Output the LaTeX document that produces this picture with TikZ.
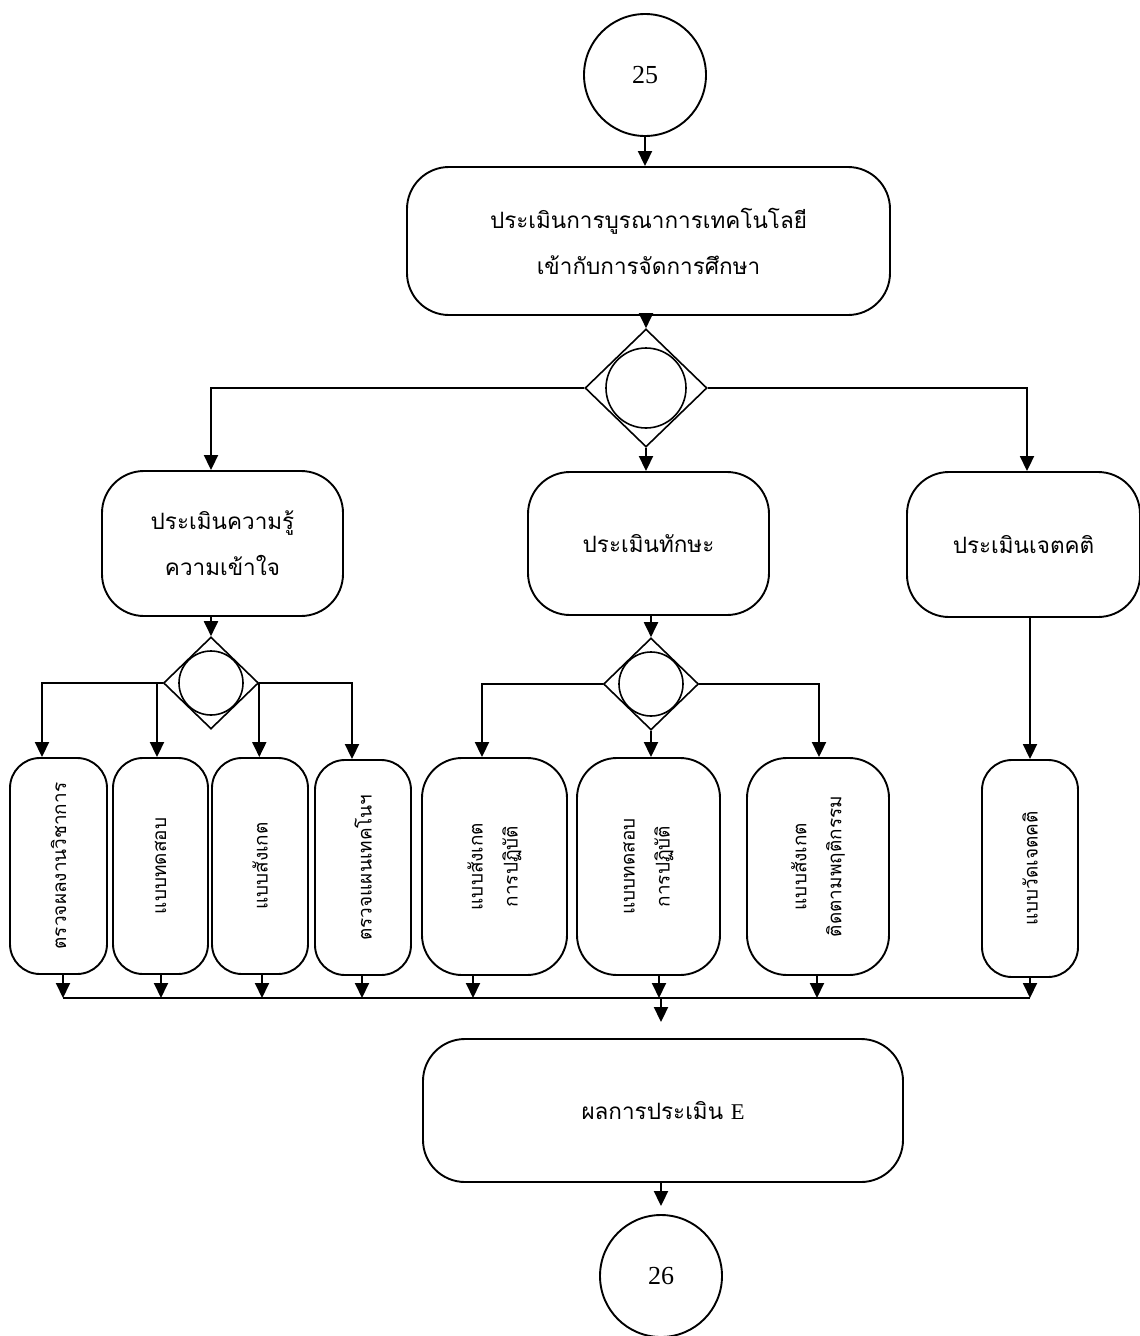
\documentclass[tikz,border=0pt]{standalone}
\usepackage{fontspec}
\setmainfont{Liberation Serif}
\newfontfamily\thai[Script=Thai]{Loma}
\usetikzlibrary{arrows.meta,shapes.geometric,calc}
\begin{document}
\begin{tikzpicture}[x=1pt,y=-1pt,line width=1.9pt,
  arr/.style={-{Triangle[width=14pt,length=15pt]}},
  rbox/.style={draw,rounded corners=42pt,inner sep=0pt,align=center,
     font=\thai\fontsize{22.5}{46}\selectfont},
  vbox/.style={draw,rounded corners=30pt,inner sep=0pt},
  vtext/.style={rotate=90,inner sep=0pt,align=center,
     font=\thai\fontsize{19}{35}\selectfont},
  conn/.style={draw,circle,inner sep=0pt,minimum size=122pt,
     font=\fontsize{26}{30}\selectfont},
  dia/.style={draw,diamond,inner sep=0pt,line width=1.6pt},
  ring/.style={draw,circle,inner sep=0pt,line width=1.6pt}]
\useasboundingbox (0,0) rectangle (1140,1336);

% connectors (terminal circles)
\node[conn] (c25) at (645,75) {25};
\node[conn] (c26) at (661,1276) {26};

% main boxes
\node[rbox,minimum width=483pt,minimum height=148pt] (B0) at (648.5,241)
  {ประเมินการบูรณาการเทคโนโลยี\\เข้ากับการจัดการศึกษา};
\node[rbox,minimum width=241pt,minimum height=145pt] (BL) at (222.5,543.5)
  {ประเมินความรู้\\ความเข้าใจ};
\node[rbox,minimum width=241pt,minimum height=143pt] (BM) at (648.5,543.5)
  {ประเมินทักษะ};
\node[rbox,minimum width=233pt,minimum height=145pt] (BR) at (1023.5,544.5)
  {ประเมินเจตคติ};
\node[rbox,minimum width=480pt,minimum height=143pt] (E) at (663,1110.5)
  {ผลการประเมิน {\rmfamily E}};

% diamonds
\node[dia,minimum width=122pt,minimum height=118pt] (D1) at (646,388) {};
\node[ring,minimum size=80pt] (D1c) at (D1) {};
\node[dia,minimum width=95pt,minimum height=92pt] (D2) at (211,683) {};
\node[ring,minimum size=64pt] (D2c) at (D2) {};
\node[dia,minimum width=95pt,minimum height=92pt] (D3) at (651,684) {};
\node[ring,minimum size=64pt] (D3c) at (D3) {};

% vertical boxes
\node[vbox,minimum width=97pt,minimum height=216pt] (b1) at (58.5,866) {};
\node[vtext] (t1) at (b1) {ตรวจผลงานวิชาการ};
\node[vbox,minimum width=95pt,minimum height=216pt] (b2) at (160.5,866) {};
\node[vtext] (t2) at (b2) {แบบทดสอบ};
\node[vbox,minimum width=96pt,minimum height=216pt] (b3) at (260,866) {};
\node[vtext] (t3) at (b3) {แบบสังเกต};
\node[vbox,minimum width=96pt,minimum height=215pt] (b4) at (363,867.5) {};
\node[vtext] (t4) at (b4) {ตรวจแผนเทคโนฯ};
\node[vbox,rounded corners=40pt,minimum width=145pt,minimum height=217pt] (b5) at (494.5,866.5) {};
\node[vtext] (t5) at (b5) {แบบสังเกต\\การปฏิบัติ};
\node[vbox,rounded corners=40pt,minimum width=143pt,minimum height=217pt] (b6) at (648.5,866.5) {};
\node[vtext] (t6) at (b6) {แบบทดสอบ\\การปฏิบัติ};
\node[vbox,rounded corners=40pt,minimum width=142pt,minimum height=217pt] (b7) at (818,866.5) {};
\node[vtext] (t7) at (b7) {แบบสังเกต\\ติดตามพฤติกรรม};
\node[vbox,minimum width=96pt,minimum height=217pt] (b8) at (1030,868.5) {};
\node[vtext] (t8) at (b8) {แบบวัดเจตคติ};

% helper x-positions
\coordinate (kL) at (211,0);
\coordinate (kR) at (1027,0);
\coordinate (k1) at (42,0);
\coordinate (k2) at (157,0);
\coordinate (k4) at (352,0);
\coordinate (k5) at (482,0);
\coordinate (k7) at (819,0);
\coordinate (o1) at (63,0);
\coordinate (o2) at (161,0);
\coordinate (o3) at (262,0);
\coordinate (o4) at (362,0);
\coordinate (o5) at (473,0);
\coordinate (o6) at (659,0);
\coordinate (o7) at (817,0);
\coordinate (o8) at (1030,0);
\coordinate (lineY) at (0,998);

% top part
\draw[arr] (c25.south) -- (c25.south |- B0.north);
\draw[arr] (D1.north |- B0.south) -- (D1.north);
\draw[arr] (D1.west) -| (kL |- BL.north);
\draw[arr] (D1.east) -| (kR |- BR.north);
\draw[arr] (D1.south) -- (D1.south |- BM.north);

% second level
\draw[arr] (kL |- BL.south) -- (D2.north);
\draw[arr] (D3.north |- BM.south) -- (D3.north);
\draw[arr] (b8.north |- BR.south) -- (b8.north);

% branches of D2
\draw[arr] (D2.west) -| (k1 |- b1.north);
\draw[arr] (k2 |- D2.west) -- (k2 |- b2.north);
\draw[arr] (D2.east) -- (D2.east |- b3.north);
\draw[arr] (D2.east) -| (k4 |- b4.north);

% branches of D3
\draw[arr] (D3.west) -| (k5 |- b5.north);
\draw[arr] (D3.south) -- (D3.south |- b6.north);
\draw[arr] (D3.east) -| (k7 |- b7.north);

% collecting line
\draw[arr] (o1 |- b1.south) -- (o1 |- lineY);
\draw[arr] (o2 |- b2.south) -- (o2 |- lineY);
\draw[arr] (o3 |- b3.south) -- (o3 |- lineY);
\draw[arr] (o4 |- b4.south) -- (o4 |- lineY);
\draw[arr] (o5 |- b5.south) -- (o5 |- lineY);
\draw[arr] (o6 |- b6.south) -- (o6 |- lineY);
\draw[arr] (o7 |- b7.south) -- (o7 |- lineY);
\draw[arr] (o8 |- b8.south) -- (o8 |- lineY);
\draw (o1 |- lineY) -- (o8 |- lineY);

\draw[arr,shorten >=16pt] (c26.north |- lineY) -- (c26.north |- E.north);
\draw[arr,shorten >=8pt] (c26.north |- E.south) -- (c26.north);
\end{tikzpicture}
\end{document}
